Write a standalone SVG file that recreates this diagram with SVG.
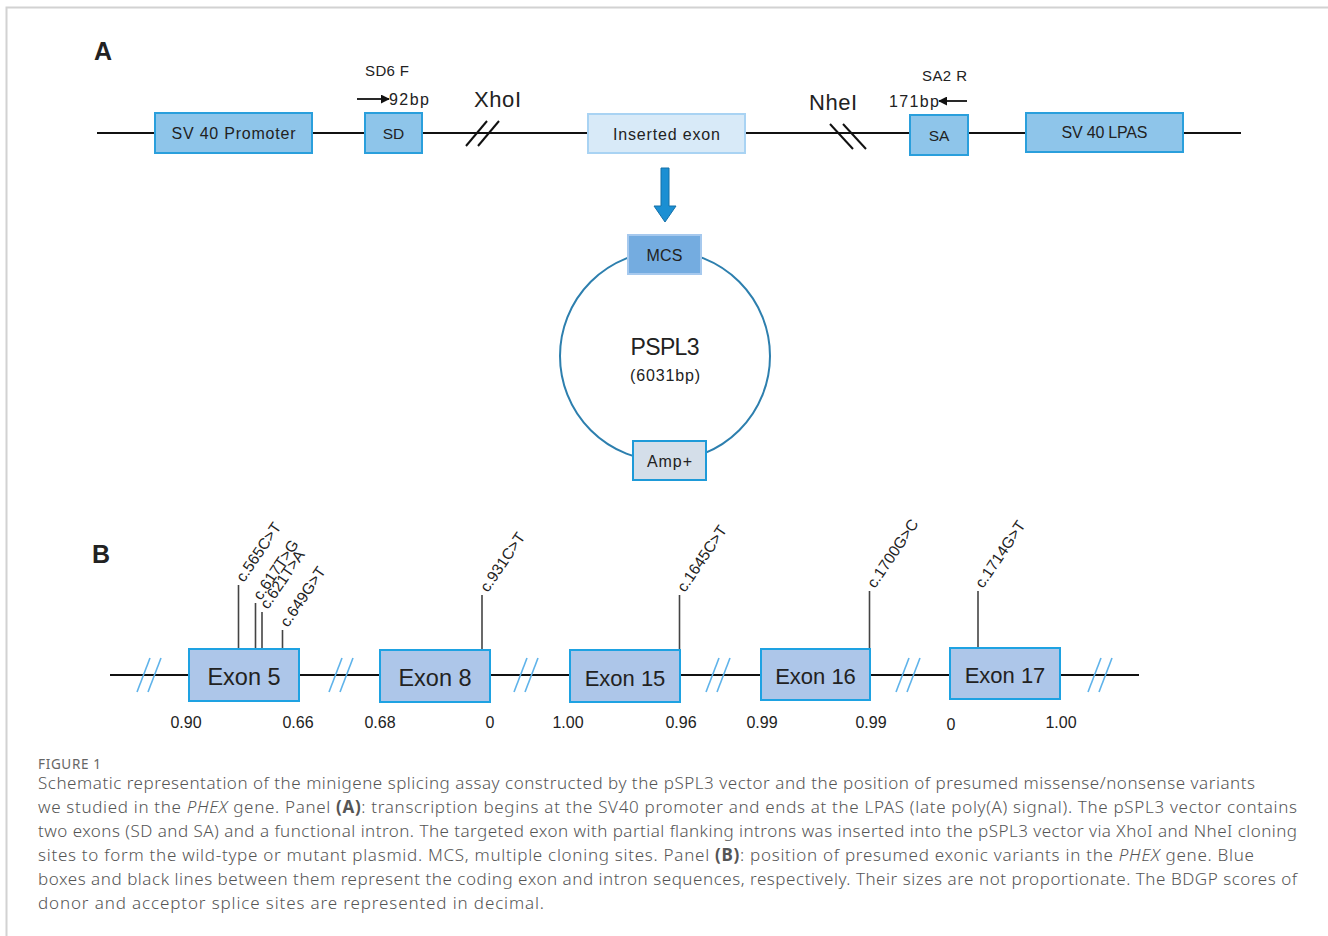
<svg xmlns="http://www.w3.org/2000/svg" width="1328" height="936" viewBox="0 0 1328 936">
<style>
  .t { font-family: "Liberation Sans", Arial, sans-serif; fill: #222; }
  .box { fill: #8ec5ea; stroke: #2a9fdc; stroke-width: 2; }
  .exon { fill: #adc6e9; stroke: #1ea2e2; stroke-width: 2; }
  .line { stroke: #111; stroke-width: 2; fill: none; }
  .var { stroke: #444; stroke-width: 1.6; fill: none; }
  .sl { stroke: #5fb3ea; stroke-width: 1.6; fill: none; }
  .cap { font-family: "Noto Sans", "Open Sans", sans-serif; font-weight: 300; fill: #555; font-size: 17px; }
  .vl { font-family: "Liberation Sans", Arial, sans-serif; fill: #222; font-size: 15.5px; }
  .sc { font-family: "Liberation Sans", Arial, sans-serif; fill: #222; font-size: 16px; text-anchor: middle; }
</style>
<defs>
  <marker id="ah" viewBox="0 0 10 10" refX="9" refY="5" markerWidth="9" markerHeight="9" markerUnits="userSpaceOnUse" orient="auto">
    <path d="M0,0 L10,5 L0,10 z" fill="#111"/>
  </marker>
</defs>
<rect width="1328" height="936" fill="#fff"/>
<path d="M6.5,936 V7.5 H1328" stroke="#d2d2d2" stroke-width="2" fill="none"/>

<!-- Panel A -->
<text class="t" x="94" y="60" font-size="25" font-weight="bold">A</text>
<g id="connectors">
  <line class="line" x1="97" y1="133" x2="1241" y2="133"/>
  <line class="line" x1="466" y1="146" x2="487" y2="121"/>
  <line class="line" x1="478" y1="146" x2="499" y2="121"/>
  <line class="line" x1="830" y1="124" x2="853" y2="149"/>
  <line class="line" x1="843" y1="124" x2="866" y2="149"/>
  <line x1="357" y1="99" x2="389" y2="99" stroke="#111" stroke-width="1.8" marker-end="url(#ah)"/>
  <line x1="967" y1="101" x2="939" y2="101" stroke="#111" stroke-width="1.8" marker-end="url(#ah)"/>
  <path d="M661,168 H669 V206 H676 L665,222 L654,206 H661 Z" fill="#1b8fd3" stroke="#1570a8" stroke-width="1"/>
  <circle cx="665" cy="356" r="105" fill="none" stroke="#2d7fae" stroke-width="2"/>
  <!-- Panel B main line -->
  <line class="line" x1="110" y1="675" x2="1139" y2="675"/>
  <line class="sl" x1="137" y1="692" x2="150" y2="658"/><line class="sl" x1="148" y1="692" x2="161" y2="658"/>
  <line class="sl" x1="329" y1="692" x2="342" y2="658"/><line class="sl" x1="340" y1="692" x2="353" y2="658"/>
  <line class="sl" x1="514" y1="692" x2="527" y2="658"/><line class="sl" x1="525" y1="692" x2="538" y2="658"/>
  <line class="sl" x1="706" y1="692" x2="719" y2="658"/><line class="sl" x1="717" y1="692" x2="730" y2="658"/>
  <line class="sl" x1="896" y1="692" x2="909" y2="658"/><line class="sl" x1="907" y1="692" x2="920" y2="658"/>
  <line class="sl" x1="1088" y1="692" x2="1101" y2="658"/><line class="sl" x1="1099" y1="692" x2="1112" y2="658"/>
  <!-- variant stems -->
  <line class="var" x1="238.5" y1="585" x2="238.5" y2="649"/>
  <line class="var" x1="255.5" y1="603" x2="255.5" y2="649"/>
  <line class="var" x1="262" y1="612" x2="262" y2="649"/>
  <line class="var" x1="282.5" y1="630" x2="282.5" y2="649"/>
  <line class="var" x1="482" y1="595" x2="482" y2="650"/>
  <line class="var" x1="679.5" y1="595" x2="679.5" y2="650"/>
  <line class="var" x1="869.5" y1="591" x2="869.5" y2="649"/>
  <line class="var" x1="978" y1="591" x2="978" y2="648"/>
</g>

<text class="t" x="365" y="76" font-size="15" textLength="44">SD6 F</text>
<text class="t" x="389" y="105" font-size="16" textLength="40">92bp</text>
<text class="t" x="474" y="107" font-size="22" textLength="47">XhoI</text>
<text class="t" x="809" y="110" font-size="22" textLength="48">NheI</text>
<text class="t" x="922" y="81" font-size="15" textLength="45">SA2 R</text>
<text class="t" x="889" y="107" font-size="16" textLength="50">171bp</text>

<g id="sv40-promoter">
  <rect class="box" x="155" y="113" width="157" height="40"/>
  <text class="t" x="233.5" y="139" font-size="16" text-anchor="middle" textLength="124">SV 40 Promoter</text>
</g>
<g id="sd">
  <rect class="box" x="365" y="113" width="57" height="40"/>
  <text class="t" x="393.5" y="139" font-size="15.5" text-anchor="middle">SD</text>
</g>
<g id="inserted-exon">
  <rect x="588" y="114" width="157" height="39" fill="#d8eaf8" stroke="#a9d3f3" stroke-width="2"/>
  <text class="t" x="666.5" y="140" font-size="16" text-anchor="middle" textLength="107">Inserted exon</text>
</g>
<g id="sa">
  <rect class="box" x="910" y="115" width="58" height="40"/>
  <text class="t" x="939" y="141" font-size="15.5" text-anchor="middle">SA</text>
</g>
<g id="sv40-lpas">
  <rect class="box" x="1026" y="113" width="157" height="39"/>
  <text class="t" x="1104.5" y="138" font-size="16" text-anchor="middle" textLength="86">SV 40 LPAS</text>
</g>
<g id="mcs">
  <rect x="628" y="235" width="73" height="39" fill="#74ace0" stroke="#a6c9ee" stroke-width="2"/>
  <text class="t" x="664.5" y="261" font-size="16" text-anchor="middle" textLength="36">MCS</text>
</g>
<g id="pspl3">
  <text class="t" x="665" y="355" font-size="23" text-anchor="middle" textLength="69">PSPL3</text>
  <text class="t" x="665" y="381" font-size="16" text-anchor="middle" textLength="70">(6031bp)</text>
</g>
<g id="amp">
  <rect x="633" y="441" width="73" height="39" fill="#d4dee9" stroke="#1e9ad8" stroke-width="2"/>
  <text class="t" x="669.5" y="467" font-size="16" text-anchor="middle" textLength="45">Amp+</text>
</g>

<!-- Panel B -->
<text class="t" x="92" y="563" font-size="25" font-weight="bold">B</text>
<g id="exon5">
  <rect class="exon" x="189" y="649" width="110" height="52"/>
  <text class="t" x="244" y="685" font-size="23.5" text-anchor="middle">Exon 5</text>
</g>
<g id="exon8">
  <rect class="exon" x="380" y="650" width="110" height="52"/>
  <text class="t" x="435" y="686" font-size="23.5" text-anchor="middle">Exon 8</text>
</g>
<g id="exon15">
  <rect class="exon" x="570" y="650" width="110" height="52"/>
  <text class="t" x="625" y="686" font-size="22" text-anchor="middle">Exon 15</text>
</g>
<g id="exon16">
  <rect class="exon" x="761" y="649" width="109" height="51"/>
  <text class="t" x="815.5" y="684" font-size="22" text-anchor="middle">Exon 16</text>
</g>
<g id="exon17">
  <rect class="exon" x="950" y="648" width="110" height="51"/>
  <text class="t" x="1005" y="683" font-size="22" text-anchor="middle">Exon 17</text>
</g>

<g id="variants">
  <text class="vl" transform="translate(244,583) rotate(-56)">c.565C&gt;T</text>
  <text class="vl" transform="translate(261,601) rotate(-56)">c.617T&gt;G</text>
  <text class="vl" transform="translate(268,610) rotate(-56)">c.621T&gt;A</text>
  <text class="vl" transform="translate(288,628) rotate(-56)">c.649G&gt;T</text>
  <text class="vl" transform="translate(488,593) rotate(-56)">c.931C&gt;T</text>
  <text class="vl" transform="translate(685,593) rotate(-56)">c.1645C&gt;T</text>
  <text class="vl" transform="translate(875,589) rotate(-56)">c.1700G&gt;C</text>
  <text class="vl" transform="translate(983,589) rotate(-56)">c.1714G&gt;T</text>
</g>

<g id="scores">
  <text class="sc" x="186" y="728">0.90</text>
  <text class="sc" x="298" y="728">0.66</text>
  <text class="sc" x="380" y="728">0.68</text>
  <text class="sc" x="490" y="728">0</text>
  <text class="sc" x="568" y="728">1.00</text>
  <text class="sc" x="681" y="728">0.96</text>
  <text class="sc" x="762" y="728">0.99</text>
  <text class="sc" x="871" y="728">0.99</text>
  <text class="sc" x="951" y="730">0</text>
  <text class="sc" x="1061" y="728">1.00</text>
</g>

<!-- Caption -->
<g id="caption">
  <text x="38" y="769" font-family="'Noto Sans', 'Open Sans', sans-serif" font-size="13.5" fill="#666" textLength="63">FIGURE 1</text>
  <text class="cap" x="38" y="789" textLength="1217">Schematic representation of the minigene splicing assay constructed by the pSPL3 vector and the position of presumed missense/nonsense variants</text>
  <text class="cap" x="38" y="813" textLength="1259">we studied in the <tspan font-style="italic">PHEX</tspan> gene. Panel <tspan font-weight="bold">(A)</tspan>: transcription begins at the SV40 promoter and ends at the LPAS (late poly(A) signal). The pSPL3 vector contains</text>
  <text class="cap" x="38" y="837" textLength="1259">two exons (SD and SA) and a functional intron. The targeted exon with partial flanking introns was inserted into the pSPL3 vector via XhoI and NheI cloning</text>
  <text class="cap" x="38" y="861" textLength="1216">sites to form the wild-type or mutant plasmid. MCS, multiple cloning sites. Panel <tspan font-weight="bold">(B)</tspan>: position of presumed exonic variants in the <tspan font-style="italic">PHEX</tspan> gene. Blue</text>
  <text class="cap" x="38" y="885" textLength="1259">boxes and black lines between them represent the coding exon and intron sequences, respectively. Their sizes are not proportionate. The BDGP scores of</text>
  <text class="cap" x="38" y="909" textLength="506">donor and acceptor splice sites are represented in decimal.</text>
</g>
</svg>
